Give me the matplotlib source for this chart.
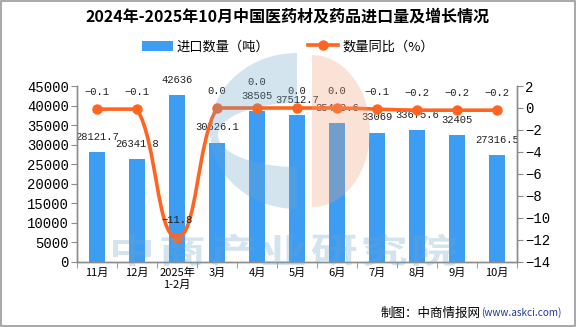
import numpy as np
import matplotlib.pyplot as plt
from matplotlib.path import Path
from matplotlib.patches import PathPatch, Polygon, Rectangle
from matplotlib.lines import Line2D
from matplotlib.textpath import TextPath
from matplotlib.font_manager import FontProperties
from matplotlib.transforms import Affine2D

plt.rcParams['font.family'] = ['Noto Sans CJK SC', 'DejaVu Sans']
plt.rcParams['axes.unicode_minus'] = True
num_font = ['Liberation Mono', 'DejaVu Sans']

months = ['11月', '12月', '2025年\n1-2月', '3月', '4月', '5月', '6月', '7月', '8月', '9月', '10月']
volume = [28121.7, 26341.8, 42636, 30526.1, 38505, 37512.7, 35430.6, 33069, 33675.6, 32405, 27316.5]
yoy = [-0.1, -0.1, -11.8, 0.0, 0.0, 0.0, 0.0, -0.1, -0.2, -0.2, -0.2]

bar_color = '#3d9df2'
line_color = '#ff6420'
axis_gray = '#8c8c8c'

fig = plt.figure(figsize=(5.76, 3.27), dpi=100)
ax = fig.add_axes([0.1337, 0.1988, 0.7639, 0.5382])
ax2 = ax.twinx()

x = np.arange(len(months))
ax.bar(x, volume, width=0.4, color=bar_color, zorder=2)
for xi, v in zip(x, volume):
    ax.annotate(f'{v:g}', (xi, v), xytext=(0, 11), textcoords='offset points',
                ha='center', va='center', fontsize=7.6, family=num_font,
                color='#222222', zorder=5)

ax.set_xlim(-0.5, len(months) - 0.5)
ax.set_ylim(0, 45000)
ax.set_yticks(np.arange(0, 45001, 5000))
ax.set_xticks(x)
ax.set_xticklabels(months, fontsize=8, linespacing=1.3)
ax.set_xticks(np.arange(-0.5, len(months), 1), minor=True)
ax.tick_params(axis='x', which='major', length=0, pad=4)
ax.tick_params(axis='x', which='minor', length=4, color=axis_gray, direction='out')
ax.tick_params(axis='y', labelsize=10, length=4, color=axis_gray, pad=2)

ax2.set_ylim(-14, 2)
ax2.set_yticks(np.arange(-14, 3, 2))
ax2.tick_params(axis='y', labelsize=10, length=4, color=axis_gray, pad=2)

for lab in ax.get_yticklabels() + ax2.get_yticklabels():
    lab.set_family(num_font)

for a in (ax, ax2):
    a.spines['top'].set_visible(False)
    for s in ('left', 'right', 'bottom'):
        a.spines[s].set_color(axis_gray)
        a.spines[s].set_linewidth(1)

# smooth growth curve: cubic Bezier segments, control points kept inside each segment's range
pts = np.column_stack([x, yoy]).astype(float)
k = 0.5
verts = [tuple(pts[0])]
codes = [Path.MOVETO]
for i in range(len(pts) - 1):
    p0 = pts[i - 1] if i > 0 else pts[i]
    p1, p2 = pts[i], pts[i + 1]
    p3 = pts[i + 2] if i + 2 < len(pts) else pts[i + 1]
    c1 = p1 + (p2 - p0) * k / 2
    c2 = p2 - (p3 - p1) * k / 2
    lo, hi = min(p1[1], p2[1]), max(p1[1], p2[1])
    c1[1] = np.clip(c1[1], lo, hi)
    c2[1] = np.clip(c2[1], lo, hi)
    verts += [tuple(c1), tuple(c2), tuple(p2)]
    codes += [Path.CURVE4] * 3
ax2.add_patch(PathPatch(Path(verts, codes), facecolor='none', edgecolor=line_color,
                        lw=2.6, zorder=3, capstyle='round'))
ax2.plot(x, yoy, 'o', color=line_color, ms=6.5, zorder=4)

# 4月 label sits higher so it clears the bar label below it
lift = {4: 6}
for i, (xi, v) in enumerate(zip(x, yoy)):
    ax2.annotate(f'{v:.1f}'.replace('-', '−') if v != 0 else '0.0', (xi, v),
                 xytext=(0, 12.5 + lift.get(i, 0)), textcoords='offset points',
                 ha='center', va='center', fontsize=7.6, family=num_font,
                 color='#222222', zorder=5)

# watermark: logo (blue C + orange half) and site name, on top, semi-transparent
wm = fig.add_axes([0, 0, 1, 1], zorder=10)
wm.set_xlim(0, 576)
wm.set_ylim(327, 0)
wm.axis('off')
wm_blue = '#6fa6cc'
t_out = np.linspace(-np.pi / 2, -3 * np.pi / 2, 80)
t_in = t_out[::-1]
outer = np.column_stack([297 + 87 * np.cos(t_out), 131 + 78 * np.sin(t_out)])
inner = np.column_stack([297 + 79 * np.cos(t_in), 135 + 32 * np.sin(t_in)])
wm.add_patch(Polygon(np.vstack([outer, inner]), closed=True, facecolor=wm_blue, alpha=0.3, lw=0))
t = np.linspace(-np.pi / 2, np.pi / 2, 60)
half = np.column_stack([312 + 58 * np.cos(t), 131 + 76 * np.sin(t)])
wm.add_patch(Polygon(half, closed=True, facecolor='#f0a27a', alpha=0.3, lw=0))

wm_prop = FontProperties(family='Noto Sans CJK SC', weight='bold')
for i, ch in enumerate('中商产业研究院'):
    tp = TextPath((0, 0), ch, size=1, prop=wm_prop)
    ext = tp.get_extents()
    cx, cy = (ext.x0 + ext.x1) / 2, (ext.y0 + ext.y1) / 2
    tr = Affine2D().translate(-cx, -cy).scale(47, -34).translate(132 + 50.5 * i, 250)
    wm.add_patch(PathPatch(tr.transform_path(tp), facecolor=wm_blue, alpha=0.3, lw=0))

fig.text(0.5, 0.948, '2024年-2025年10月中国医药材及药品进口量及增长情况',
         ha='center', va='center', fontsize=11.5, fontweight='bold')

handles = [Rectangle((0, 0), 1, 1, facecolor=bar_color),
           Line2D([], [], color=line_color, lw=2.6, marker='o', ms=6.5)]
fig.legend(handles, ['进口数量（吨）', '数量同比（%）'], loc='center', ncol=2,
           bbox_to_anchor=(0.5, 0.857), frameon=False, fontsize=9.5,
           handlelength=2.3, handleheight=0.8, columnspacing=2.9, handletextpad=0.3)

fig.text(0.835, 0.043, '制图：中商情报网', ha='right', va='center', fontsize=9)
fig.text(0.836, 0.043, '(www.askci.com)', ha='left', va='center', fontsize=7.2, color='#1f3c96')

fig.add_artist(Rectangle((0.001, 0.002), 0.997, 0.995, transform=fig.transFigure,
                         fill=False, edgecolor='#999999', lw=1.2))

fig.savefig('out.png', dpi=100)
